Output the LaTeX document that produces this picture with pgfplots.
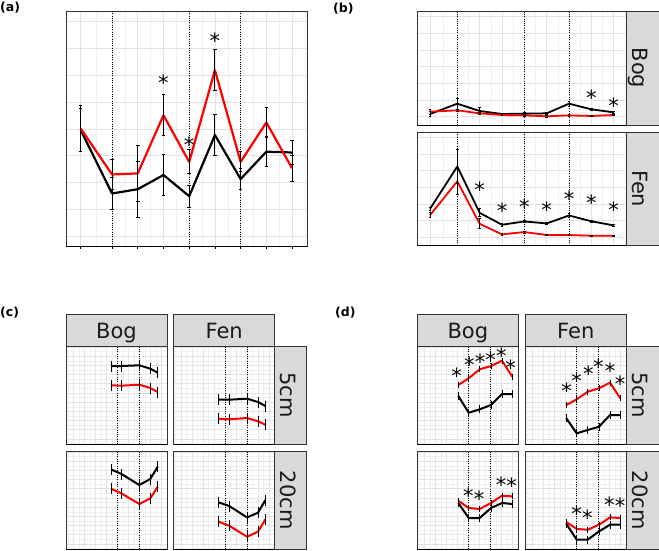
\documentclass[border=0pt]{standalone}
\usepackage{fontspec}
\setmainfont{DejaVu Sans}
\usepackage{pgfplots}
\usepackage{pgfplotstable}
\pgfplotsset{compat=1.18}

\definecolor{framecol}{HTML}{333333}
\definecolor{stripfill}{HTML}{D9D9D9}
\definecolor{striptext}{HTML}{1A1A1A}
\definecolor{gridmaj}{HTML}{E3E3E3}
\definecolor{gridmin}{HTML}{F0F0F0}

\pgfplotsset{
  panel/.style={scale only axis, anchor=north west, clip=false,
    axis line style={draw=framecol, line width=0.8pt},
    xticklabels={}, yticklabels={},
    major tick length=0pt, minor tick length=0pt,
    grid=both,
    major grid style={draw=gridmaj, line width=0.7pt},
    minor grid style={draw=gridmin, line width=0.45pt}},
  timeax/.style={panel, xmin=-0.57, xmax=8.8,
    xtick={0,1.22,2.22,3.22,4.22,5.22,6.22,7.22,8.22},
    minor xtick={0.61,1.72,2.72,3.72,4.72,5.72,6.72,7.72,8.72}},
  facet/.style={panel, width=101pt, height=98pt,
    xmin=0, xmax=101, ymin=0, ymax=98,
    xtick={7.3,18.3,29.3,40.3,51.3,62.3,73.3,84.3,95.3},
    minor xtick={1.8,12.8,23.8,34.8,45.8,56.8,67.8,78.8,89.8,100.8},
    ytick={5,14.2,23.4,32.6,41.8,51,60.2,69.4,78.6,87.8,97},
    minor ytick={0.4,9.6,18.8,28,37.2,46.4,55.6,64.8,74,83.2,92.4}},
  ebar/.style={draw=none, no markers, forget plot,
    error bars/.cd, y dir=both, y explicit,
    error bar style={draw=black, line width=1pt, solid},
    error mark options={rotate=90, draw=black, line width=1pt, mark size=#1}},
  ebarnc/.style={draw=none, no markers, forget plot,
    error bars/.cd, y dir=both, y explicit, error mark=none,
    error bar style={draw=black, line width=1pt, solid}},
}
\tikzset{
  ln/.style={line width=#1, line join=round},
  dotln/.style={black, line width=0.7pt, dash pattern=on 0.7pt off 1.6pt},
  star/.style={font=\fontsize{21}{21}\selectfont, inner sep=0pt, anchor=base, yshift=-12pt},
  strip/.style={fill=stripfill, draw=framecol, line width=0.8pt},
  striplab/.style={text=striptext, font=\fontsize{21}{21}\selectfont, inner sep=0pt, anchor=base},
  plab/.style={font=\bfseries\fontsize{12.5}{12.5}\selectfont, inner sep=0pt, anchor=base west},
}

% panel (a)
\pgfplotstableread{
x y e
0 4.02 0.87
1.22 2.30 0.56
2.22 2.34 1.04
3.22 4.51 0.76
4.22 2.77 0.45
5.22 6.19 0.76
6.22 2.77 0.37
7.22 4.24 0.55
8.22 2.53 0.48
}\aRed
\pgfplotstableread{
x y e
0 3.96 0.82
1.22 1.59 0.60
2.22 1.75 1.04
3.22 2.28 0.75
4.22 1.49 0.41
5.22 3.77 0.76
6.22 2.13 0.40
7.22 3.15 0.55
8.22 3.12 0.44
}\aBlack

% panel (b)
\pgfplotstableread{
x y e
0 0.16 0.15
1.22 0.78 0.32
2.22 0.34 0.20
3.22 0.16 0.06
4.22 0.18 0.08
5.22 0.20 0.06
6.22 0.78 0.15
7.22 0.44 0.06
8.22 0.26 0.06
}\bBogBlack
\pgfplotstableread{
x y e
0 0.30 0.15
1.22 0.38 0.08
2.22 0.20 0.06
3.22 0.10 0.04
4.22 0.08 0.04
5.22 0.02 0.04
6.22 0.08 0.04
7.22 0.04 0.04
8.22 0.10 0.04
}\bBogRed
\pgfplotstableread{
x y e
0 1.70 0.10
1.22 4.26 1.00
2.22 1.46 0.25
3.22 0.74 0.08
4.22 0.94 0.08
5.22 0.82 0.08
6.22 1.30 0.10
7.22 0.95 0.06
8.22 0.70 0.06
}\bFenBlack
\pgfplotstableread{
x y e
0 1.32 0.15
1.22 3.36 0.80
2.22 0.80 0.30
3.22 0.16 0.06
4.22 0.30 0.06
5.22 0.12 0.04
6.22 0.12 0.04
7.22 0.08 0.04
8.22 0.08 0.04
}\bFenRed

% panel (c)
\pgfplotstableread{
x y e
45 78 5.5
55.5 78 5.5
73.3 78.7 5.5
84.3 75.3 5.5
91.7 71.3 5.5
}\cBogFiveBlack
\pgfplotstableread{
x y e
45 58.7 5.5
55.5 58.3 5.5
73.3 59.3 5.5
84.3 56 5.5
91.7 52 5.5
}\cBogFiveRed
\pgfplotstableread{
x y e
45 44.3 5.5
55.5 44.3 5.5
73.3 45.3 5.5
84.3 42 5.5
91.7 38 5.5
}\cFenFiveBlack
\pgfplotstableread{
x y e
45 25.3 5.5
55.5 24.7 5.5
73.3 26 5.5
84.3 22.7 5.5
91.7 19.3 5.5
}\cFenFiveRed
\pgfplotstableread{
x y e
45 79.6 5.5
55.5 75 5.5
73.3 64 5.5
84.3 70 5.5
91.7 82.3 5.5
}\cBogTwBlack
\pgfplotstableread{
x y e
45 60.3 5.5
55.5 55.6 5.5
73.3 45 5.5
84.3 50.6 5.5
91.7 62.3 5.5
}\cBogTwRed
\pgfplotstableread{
x y e
45 46.6 5.5
55.5 43 5.5
73.3 31.6 5.5
84.3 36.3 5.5
91.7 49 5.5
}\cFenTwBlack
\pgfplotstableread{
x y e
45 27.3 5.5
55.5 23.3 5.5
73.3 12.3 5.5
84.3 17.3 5.5
91.7 29.6 5.5
}\cFenTwRed

% panel (d)
\pgfplotstableread{
x y e
41 48 4
51.4 31.3 4
62.4 34.7 4
73.7 39 4
84.7 50 4
95 50 4
}\dBogFiveBlack
\pgfplotstableread{
x y e
41 59 3
51.4 65.7 3
62.4 74.7 3
73.7 78 3
84.7 83.3 3
95 67.3 3
}\dBogFiveRed
\pgfplotstableread{
x y e
41 25.7 4
51.4 10.7 4
62.4 14 4
73.7 17.3 4
84.7 29 4
95 29 4
}\dFenFiveBlack
\pgfplotstableread{
x y e
41 39 3
51.4 44.7 3
62.4 52.3 3
73.7 55.7 3
84.7 61.3 3
95 45.7 3
}\dFenFiveRed
\pgfplotstableread{
x y e
41 46 4
51.4 31 4
62.4 31 4
73.7 41 4
84.7 46 4
95 45 4
}\dBogTwBlack
\pgfplotstableread{
x y e
41 48.3 3
51.4 41 3
62.4 40 3
73.7 46 3
84.7 53.3 3
95 52.6 3
}\dBogTwRed
\pgfplotstableread{
x y e
41 25.3 4
51.4 9.3 4
62.4 9.3 4
73.7 17.6 4
84.7 24.3 4
95 24.3 4
}\dFenTwBlack
\pgfplotstableread{
x y e
41 27 3
51.4 20 3
62.4 19.3 3
73.7 24.3 3
84.7 31.6 3
95 31 3
}\dFenTwRed

% one facet of (c) or (d): #1 black, #2 red
\newcommand{\facetplots}[2]{%
  \addplot[dotln] coordinates {(51.4,0) (51.4,98)};
  \addplot[dotln] coordinates {(73.5,0) (73.5,98)};
  \addplot[ln=2pt, black] table {#1};
  \addplot[ln=2pt, red] table {#2};
  \addplot[ebarnc] table[y error=e] {#1};
  \addplot[ebarnc] table[y error=e] {#2};
  \draw[black, line width=0.9pt] (rel axis cs:0,0) -- (rel axis cs:1,0);
}

\begin{document}
\begin{tikzpicture}
\path[use as bounding box] (0pt,0pt) rectangle (659pt,-551pt);

% ---------- (a)
\node[plab] at (0pt,-12pt) {(a)};
\begin{axis}[timeax, at={(66pt,-11pt)}, width=241pt, height=235.3pt,
    ymin=-0.38, ymax=8.4, ytick={0,...,8},
    xtick pos=bottom, xtick align=outside, major tick length=2.5pt,
    xtick style={draw=black, line width=0.7pt}, ytick style={draw=none}]
  \addplot[dotln] coordinates {(1.22,-0.38) (1.22,8.4)};
  \addplot[dotln] coordinates {(4.22,-0.38) (4.22,8.4)};
  \addplot[dotln] coordinates {(6.22,-0.38) (6.22,8.4)};
  \addplot[ln=2.2pt, black] table {\aBlack};
  \addplot[ln=2.2pt, red] table {\aRed};
  \addplot[ebar=1.8pt] table[y error=e] {\aBlack};
  \addplot[ebar=1.8pt] table[y error=e] {\aRed};
  \node[star] at (axis cs:3.22,5.88) {*};
  \node[star] at (axis cs:4.22,3.58) {*};
  \node[star] at (axis cs:5.22,7.44) {*};
  \draw[black, line width=1pt] (rel axis cs:0,0) -- (rel axis cs:1,0);
\end{axis}

% ---------- (b)
\node[plab] at (333pt,-13pt) {(b)};
\begin{axis}[timeax, at={(417.3pt,-11pt)}, width=209.4pt, height=114pt,
    ymin=-0.5, ymax=6.34, ytick={0,...,6}]
  \addplot[dotln] coordinates {(1.22,-0.5) (1.22,6.34)};
  \addplot[dotln] coordinates {(4.22,-0.5) (4.22,6.34)};
  \addplot[dotln] coordinates {(6.22,-0.5) (6.22,6.34)};
  \addplot[ln=1.8pt, black] table {\bBogBlack};
  \addplot[ln=1.8pt, red] table {\bBogRed};
  \addplot[ebar=1.4pt] table[y error=e] {\bBogBlack};
  \addplot[ebar=1.4pt] table[y error=e] {\bBogRed};
  \node[star] at (axis cs:7.22,1.4) {*};
  \node[star] at (axis cs:8.22,0.9) {*};
  \draw[black, line width=0.9pt] (rel axis cs:0,0) -- (rel axis cs:1,0);
\end{axis}
\begin{axis}[timeax, at={(417.3pt,-132pt)}, width=209.4pt, height=113.3pt,
    ymin=-0.5, ymax=6.34, ytick={0,...,6}]
  \addplot[dotln] coordinates {(1.22,-0.5) (1.22,6.34)};
  \addplot[dotln] coordinates {(4.22,-0.5) (4.22,6.34)};
  \addplot[dotln] coordinates {(6.22,-0.5) (6.22,6.34)};
  \addplot[ln=1.8pt, black] table {\bFenBlack};
  \addplot[ln=1.8pt, red] table {\bFenRed};
  \addplot[ebar=1.4pt] table[y error=e] {\bFenBlack};
  \addplot[ebar=1.4pt] table[y error=e] {\bFenRed};
  \node[star] at (axis cs:2.22,3.12) {*};
  \node[star] at (axis cs:3.22,1.82) {*};
  \node[star] at (axis cs:4.22,2.06) {*};
  \node[star] at (axis cs:5.22,1.90) {*};
  \node[star] at (axis cs:6.22,2.56) {*};
  \node[star] at (axis cs:7.22,2.32) {*};
  \node[star] at (axis cs:8.22,1.88) {*};
  \draw[black, line width=0.9pt] (rel axis cs:0,0) -- (rel axis cs:1,0);
\end{axis}
\draw[strip] (626.7pt,-11pt) rectangle (665pt,-125pt);
\draw[strip] (626.7pt,-132pt) rectangle (665pt,-245.3pt);
\node[striplab, rotate=-90] at (632.2pt,-68pt) {Bog};
\node[striplab, rotate=-90] at (632.2pt,-188.7pt) {Fen};

% ---------- (c)
\node[plab] at (0pt,-316pt) {(c)};
\begin{axis}[facet, at={(66pt,-346pt)}]
  \facetplots{\cBogFiveBlack}{\cBogFiveRed}
\end{axis}
\begin{axis}[facet, at={(173.7pt,-346pt)}]
  \facetplots{\cFenFiveBlack}{\cFenFiveRed}
\end{axis}
\begin{axis}[facet, at={(66pt,-451pt)}]
  \facetplots{\cBogTwBlack}{\cBogTwRed}
\end{axis}
\begin{axis}[facet, at={(173.7pt,-451pt)}]
  \facetplots{\cFenTwBlack}{\cFenTwRed}
\end{axis}
\draw[strip] (66pt,-314.3pt) rectangle (167pt,-346pt);
\draw[strip] (173.7pt,-314.3pt) rectangle (274.7pt,-346pt);
\draw[strip] (274.7pt,-346pt) rectangle (306.7pt,-444pt);
\draw[strip] (274.7pt,-451pt) rectangle (306.7pt,-549.3pt);
\node[striplab] at (116.5pt,-338.3pt) {Bog};
\node[striplab] at (224.2pt,-338.3pt) {Fen};
\node[striplab, rotate=-90] at (280.5pt,-395pt) {5cm};
\node[striplab, rotate=-90] at (280.5pt,-500.2pt) {20cm};

% ---------- (d)
\node[plab] at (335pt,-316pt) {(d)};
\begin{axis}[facet, at={(417.3pt,-346pt)}]
  \facetplots{\dBogFiveBlack}{\dBogFiveRed}
  \node[star] at (axis cs:39.4,72.3) {*};
  \node[star] at (axis cs:52,83.3) {*};
  \node[star] at (axis cs:62.7,86.7) {*};
  \node[star] at (axis cs:73.4,89) {*};
  \node[star] at (axis cs:84,93) {*};
  \node[star] at (axis cs:93.4,80.7) {*};
\end{axis}
\begin{axis}[facet, at={(525.3pt,-346pt)}]
  \facetplots{\dFenFiveBlack}{\dFenFiveRed}
  \node[star] at (axis cs:41.4,57.3) {*};
  \node[star] at (axis cs:51.4,68) {*};
  \node[star] at (axis cs:63,75) {*};
  \node[star] at (axis cs:73,81.3) {*};
  \node[star] at (axis cs:84.7,77.3) {*};
  \node[star] at (axis cs:94.7,64.7) {*};
\end{axis}
\begin{axis}[facet, at={(417.3pt,-451pt)}]
  \facetplots{\dBogTwBlack}{\dBogTwRed}
  \node[star] at (axis cs:51,57.6) {*};
  \node[star] at (axis cs:61.7,54.3) {*};
  \node[star] at (axis cs:83.7,68.6) {*};
  \node[star] at (axis cs:94.4,67.6) {*};
\end{axis}
\begin{axis}[facet, at={(525.3pt,-451pt)}]
  \facetplots{\dFenTwBlack}{\dFenTwRed}
  \node[star] at (axis cs:51.4,39.3) {*};
  \node[star] at (axis cs:62,36) {*};
  \node[star] at (axis cs:84,48.3) {*};
  \node[star] at (axis cs:94.7,47.6) {*};
\end{axis}
\draw[strip] (417.3pt,-314.3pt) rectangle (518.3pt,-346pt);
\draw[strip] (525.3pt,-314.3pt) rectangle (626.3pt,-346pt);
\draw[strip] (626.3pt,-346pt) rectangle (665pt,-444pt);
\draw[strip] (626.3pt,-451pt) rectangle (665pt,-549.3pt);
\node[striplab] at (467.8pt,-338.3pt) {Bog};
\node[striplab] at (575.8pt,-338.3pt) {Fen};
\node[striplab, rotate=-90] at (632pt,-395pt) {5cm};
\node[striplab, rotate=-90] at (632pt,-500.2pt) {20cm};
\end{tikzpicture}
\end{document}
